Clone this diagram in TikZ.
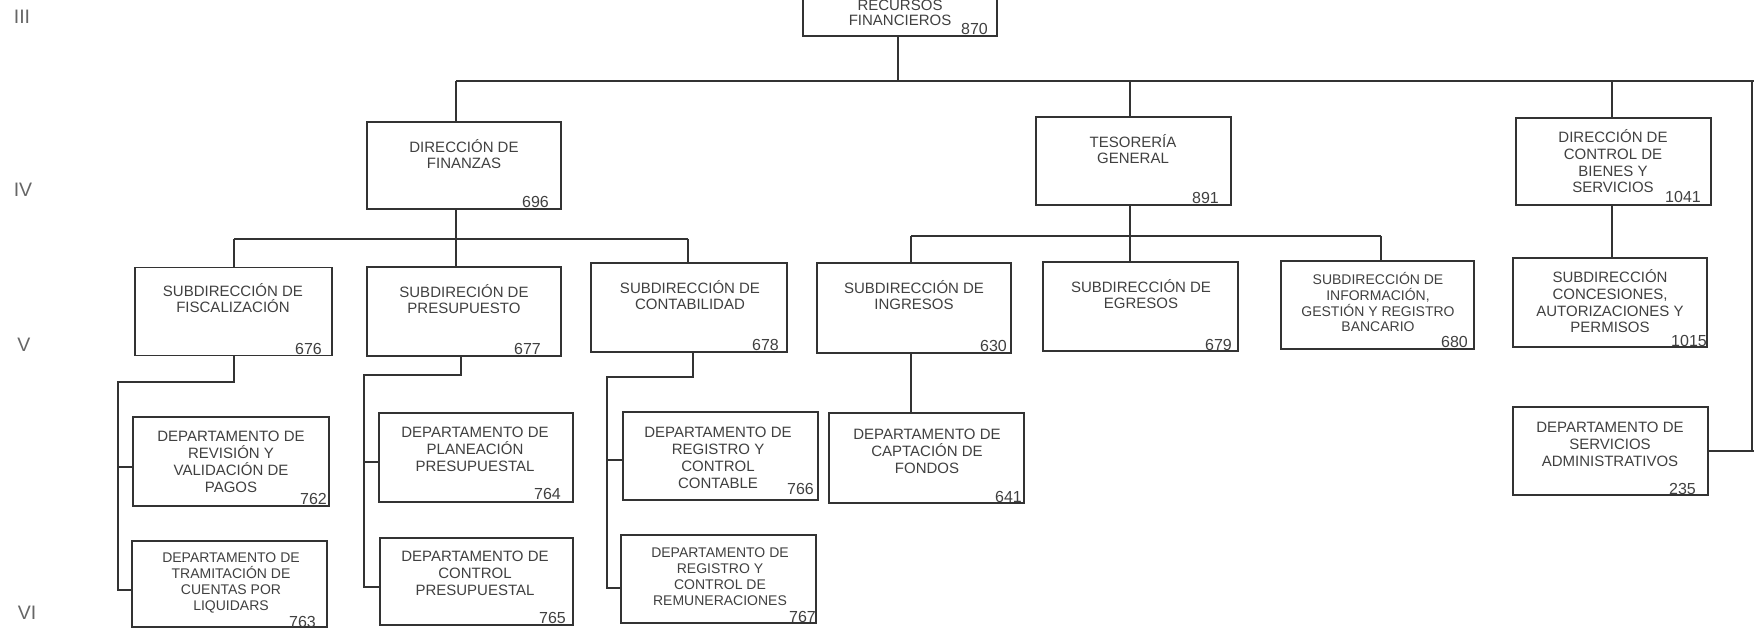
\documentclass[tikz,border=0pt]{standalone}
\usepackage{fontspec}
\setmainfont{Liberation Sans}
\definecolor{ink}{rgb}{0.20,0.20,0.20}
\definecolor{txt}{rgb}{0.25,0.25,0.25}
\definecolor{lvl}{rgb}{0.40,0.40,0.40}

\tikzset{
  orgbox/.style={draw=ink, line width=1.6pt, inner sep=0pt},
  conn/.style={draw=ink, line width=1.4pt},
  % multi-line labels are placed by the baseline of their last line
  lbl/.style={font=\fontsize{15}{16.8}\selectfont, text=txt, align=center, inner sep=0pt, anchor=base},
  lblsmall/.style={lbl, font=\fontsize{14}{15.7}\selectfont},
  num/.style={font=\fontsize{16}{17}\selectfont, text=txt, inner sep=0pt, anchor=base east},
  level/.style={font=\fontsize{19.5}{21}\selectfont, text=lvl, inner sep=0pt}
}

% unit box: name, centre x, centre y, width, height
\newcommand\unitbox[5]{\node[orgbox, minimum width=#4pt, minimum height=#5pt] (#1) at (#2,#3) {};}

\begin{document}
\begin{tikzpicture}[x=1pt, y=-1pt]
\useasboundingbox (0,0) rectangle (1754,628);
\fill[white] (0,0) rectangle (1754,628);
\clip (0,0) rectangle (1754,628);

% hierarchy levels
\node[level] (l3) at (22,17) {III};
\node[level] (l4) at (23,190) {IV};
\node[level] (l5) at (24,345) {V};
\node[level] (l6) at (27,613) {VI};

% ---- level III
\unitbox{tb}{900}{3}{194}{66}
\node[lbl, font=\fontsize{15}{15}\selectfont] (tb-t) at (900,26) {RECURSOS\\FINANCIEROS};
\node[num] (tb-n) at (988,35) {870};

% ---- level IV
\unitbox{df}{464}{165.5}{194}{87}
\node[lbl] (df-t) at (464,169) {DIRECCIÓN DE\\FINANZAS};
\node[num] (df-n) at (549,208) {696};

\unitbox{tg}{1133.5}{161}{195}{88}
\node[lbl] (tg-t) at (1133,164) {TESORERÍA\\GENERAL};
\node[num] (tg-n) at (1219,204) {891};

\unitbox{bs}{1613.5}{161.5}{195}{87}
\node[lbl] (bs-t) at (1613,193) {DIRECCIÓN DE\\CONTROL DE\\BIENES Y\\SERVICIOS};
\node[num] (bs-n) at (1701,203) {1041};

% ---- level V
\unitbox{sf}{233.5}{311.5}{197}{88}
\node[lbl] (sf-t) at (233,313) {SUBDIRECCIÓN DE\\FISCALIZACIÓN};
\node[num] (sf-n) at (322,355) {676};

\unitbox{sp}{464}{311.5}{194}{89}
\node[lbl] (sp-t) at (464,314) {SUBDIRECIÓN DE\\PRESUPUESTO};
\node[num] (sp-n) at (541,355) {677};

\unitbox{sc}{689}{307.5}{196}{89}
\node[lbl] (sc-t) at (690,310) {SUBDIRECCIÓN DE\\CONTABILIDAD};
\node[num] (sc-n) at (779,351) {678};

\unitbox{si}{914}{308}{194}{90}
\node[lbl] (si-t) at (914,310) {SUBDIRECCIÓN DE\\INGRESOS};
\node[num] (si-n) at (1007,352) {630};

\unitbox{se}{1140.5}{306.5}{195}{89}
\node[lbl] (se-t) at (1141,309) {SUBDIRECCIÓN DE\\EGRESOS};
\node[num] (se-n) at (1232,350) {679};

\unitbox{ir}{1377.5}{305}{193}{88}
\node[lblsmall] (ir-t) at (1378,332) {SUBDIRECCIÓN DE\\INFORMACIÓN,\\GESTIÓN Y REGISTRO\\BANCARIO};
\node[num] (ir-n) at (1468,348) {680};

\unitbox{cp}{1610}{302.5}{194}{89}
\node[lbl] (cp-t) at (1610,333) {SUBDIRECCIÓN\\CONCESIONES,\\AUTORIZACIONES Y\\PERMISOS};
\node[num] (cp-n) at (1707,346) {1015};

% ---- level VI
\unitbox{rv}{231}{461.5}{196}{89}
\node[lbl] (rv-t) at (231,492) {DEPARTAMENTO DE\\REVISIÓN Y\\VALIDACIÓN DE\\PAGOS};
\node[num] (rv-n) at (327,504) {762};

\unitbox{tc}{229.5}{584}{195}{86}
\node[lblsmall] (tc-t) at (231,610) {DEPARTAMENTO DE\\TRAMITACIÓN DE\\CUENTAS POR\\LIQUIDARS};
\node[num] (tc-n) at (316,627) {763};

\unitbox{pp}{476}{457.5}{194}{89}
\node[lbl] (pp-t) at (475,471) {DEPARTAMENTO DE\\PLANEACIÓN\\PRESUPUESTAL};
\node[num] (pp-n) at (561,499) {764};

\unitbox{cpp}{476.5}{581.5}{193}{87}
\node[lbl] (cpp-t) at (475,595) {DEPARTAMENTO DE\\CONTROL\\PRESUPUESTAL};
\node[num] (cpp-n) at (566,623) {765};

\unitbox{rc}{720.5}{456}{195}{88}
\node[lbl] (rc-t) at (718,488) {DEPARTAMENTO DE\\REGISTRO Y\\CONTROL\\CONTABLE};
\node[num] (rc-n) at (814,494) {766};

\unitbox{rr}{718.5}{579}{195}{88}
\node[lblsmall] (rr-t) at (720,605) {DEPARTAMENTO DE\\REGISTRO Y\\CONTROL DE\\REMUNERACIONES};
\node[num] (rr-n) at (816,622) {767};

\unitbox{cf}{926.5}{458}{195}{90}
\node[lbl] (cf-t) at (927,473) {DEPARTAMENTO DE\\CAPTACIÓN DE\\FONDOS};
\node[num] (cf-n) at (1022,502) {641};

\unitbox{sa}{1610.5}{451}{195}{88}
\node[lbl] (sa-t) at (1610,466) {DEPARTAMENTO DE\\SERVICIOS\\ADMINISTRATIVOS};
\node[num] (sa-n) at (1696,494) {235};

% ---- main bus
\coordinate (bus-l) at (456,81);
\coordinate (bus-r) at (1760,81);
\coordinate (tb-j) at (898,81);
\coordinate (tg-j) at (1130,81);
\coordinate (bs-j) at (1612,81);
\coordinate (edge-j) at (1752,81);
\coordinate (edge-x) at (1760,0);
\draw[conn] (tb-j |- tb.south) -- (tb-j);
\draw[conn] (bus-l) -- (bus-r);
\draw[conn] (bus-l) -- (bus-l |- df.north);
\draw[conn] (tg-j) -- (tg-j |- tg.north);
\draw[conn] (bs-j) -- (bs-j |- bs.north);
\draw[conn] (edge-j) -- (edge-j |- sa.east);
\draw[conn] (sa.east) -- (sa.east -| edge-x);

% ---- finanzas branch
\coordinate (df-bus) at (456,239);
\coordinate (sf-j) at (234,239);
\coordinate (sc-j) at (688,239);
\draw[conn] (bus-l |- df.south) -- (df-bus);
\draw[conn] (sf-j) -- (sc-j);
\draw[conn] (sf-j) -- (sf-j |- sf.north);
\draw[conn] (df-bus) -- (df-bus |- sp.north);
\draw[conn] (sc-j) -- (sc-j |- sc.north);

% ---- tesoreria branch
\coordinate (tg-bus) at (1130,236);
\coordinate (si-j) at (911,236);
\coordinate (ir-j) at (1381,236);
\draw[conn] (tg-j |- tg.south) -- (tg-bus);
\draw[conn] (si-j) -- (ir-j);
\draw[conn] (si-j) -- (si-j |- si.north);
\draw[conn] (tg-bus) -- (tg-bus |- se.north);
\draw[conn] (ir-j) -- (ir-j |- ir.north);
\draw[conn] (si-j |- si.south) -- (si-j |- cf.north);

% ---- bienes y servicios branch
\draw[conn] (bs-j |- bs.south) -- (bs-j |- cp.north);

% ---- departments under fiscalizacion
\coordinate (sf-k) at (234,382);
\coordinate (sf-s) at (118,382);
\coordinate (sf-b1) at (118,467);
\coordinate (sf-b2) at (118,590);
\draw[conn] (sf-k |- sf.south) -- (sf-k) -- (sf-s) -- (sf-b2) -- (sf-b2 -| tc.west);
\draw[conn] (sf-b1) -- (sf-b1 -| rv.west);

% ---- departments under presupuesto
\coordinate (sp-k) at (461,375);
\coordinate (sp-s) at (364,375);
\coordinate (sp-b1) at (364,462);
\coordinate (sp-b2) at (364,587);
\draw[conn] (sp-k |- sp.south) -- (sp-k) -- (sp-s) -- (sp-b2) -- (sp-b2 -| cpp.west);
\draw[conn] (sp-b1) -- (sp-b1 -| pp.west);

% ---- departments under contabilidad
\coordinate (sc-k) at (693,377);
\coordinate (sc-s) at (607,377);
\coordinate (sc-b1) at (607,460);
\coordinate (sc-b2) at (607,588);
\draw[conn] (sc-k |- sc.south) -- (sc-k) -- (sc-s) -- (sc-b2) -- (sc-b2 -| rr.west);
\draw[conn] (sc-b1) -- (sc-b1 -| rc.west);

\end{tikzpicture}
\end{document}
